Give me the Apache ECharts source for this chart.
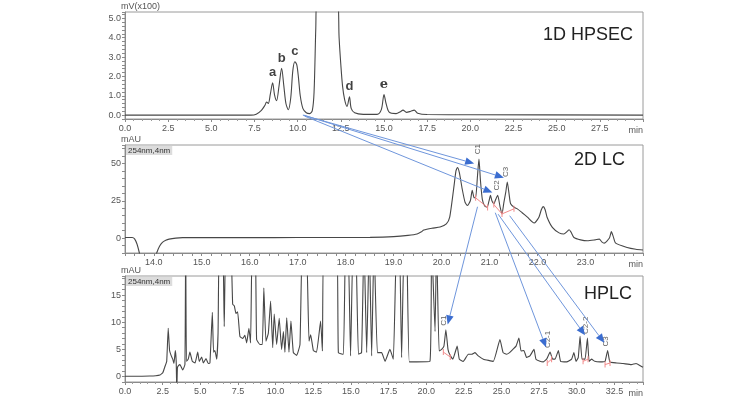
<!DOCTYPE html>
<html><head><meta charset="utf-8">
<script src="https://cdn.jsdelivr.net/npm/echarts@6/dist/echarts.min.js"></script>
<style>html,body{margin:0;padding:0;background:#fff}#c{width:756px;height:400px}</style>
</head><body><div id="c"></div>
<script>
// ---------- data (time in min, signal in panel units) ----------
const hpsecPoints = [[0,0],[7.3,0],[7.6,0.05],[7.9,0.25],[8.1,0.5],[8.2,0.68],[8.3,0.6],[8.42,1.1],[8.55,1.67],[8.66,1.05],[8.78,0.75],[8.92,1.5],[9.07,2.42],[9.2,1.5],[9.32,0.6],[9.46,0.28],[9.6,0.9],[9.72,2.3],[9.84,2.76],[9.95,2.6],[10.05,1.9],[10.15,1.0],[10.3,0.35],[10.5,0.12],[10.7,0.08],[10.85,0.25],[10.95,1.2],[11.05,4.5],[11.12,6],[12.3,6],[12.4,4.0],[12.5,2.6],[12.6,1.5],[12.72,0.8],[12.86,0.45],[13.0,0.95],[13.1,0.35],[13.3,0.12],[13.8,0.04],[14.6,0.04],[14.85,0.3],[15.0,1.07],[15.12,0.6],[15.3,0.15],[15.7,0.08],[15.95,0.18],[16.1,0.26],[16.3,0.14],[16.55,0.2],[16.75,0.26],[16.95,0.1],[17.5,0.03],[20,0.02],[30,0]];

const lcPoints = [[13.4,0.4],[13.55,0.4],[13.6,-0.5],[13.65,-4],[13.7,-10],[13.74,-16],[14.0,-16],[14.06,-10],[14.12,-5.5],[14.18,-2.9],[14.25,-1.5],[14.32,-0.7],[14.46,0],[14.6,0.3],[16,0.3],[17,0.35],[18,0.4],[18.51,0.5],[19.0,1.0],[19.3,1.8],[19.49,2.7],[19.58,4.2],[19.63,5.4],[19.8,6.6],[19.97,7.4],[20.1,9.5],[20.17,14],[20.26,35],[20.3,45],[20.33,47.3],[20.37,44],[20.43,33],[20.49,24],[20.54,21.8],[20.6,25],[20.64,32],[20.68,27],[20.71,27],[20.75,42],[20.78,52.9],[20.81,39],[20.85,26],[20.9,21.5],[20.95,20.7],[20.99,25],[21.02,28.6],[21.05,25],[21.09,23],[21.13,26],[21.17,28.6],[21.22,21],[21.26,16.2],[21.3,24],[21.34,31],[21.37,37.6],[21.41,29],[21.44,23],[21.52,20.5],[21.58,19.6],[21.68,17],[21.79,14],[21.93,10.1],[22.03,14],[22.08,19],[22.12,21.1],[22.16,19],[22.2,14],[22.31,7.2],[22.45,3.5],[22.55,2.7],[22.62,4.5],[22.66,5.6],[22.7,4],[22.76,0.4],[22.9,-1.2],[23.04,-1.8],[23.2,-1.2],[23.29,-0.7],[23.34,-2.5],[23.39,-3.4],[23.5,0],[23.54,4.3],[23.58,1],[23.63,-3.4],[23.87,-6.3],[24.05,-7.5],[24.2,-8]];

const hplcPoints = [[0,0.05],[1.65,0.1],[2.33,0.3],[2.51,0.7],[2.66,1.9],[2.77,2.8],[2.87,8.9],[2.96,4.8],[3.06,3.9],[3.17,3.2],[3.25,2.4],[3.34,4.8],[3.40,2.8],[3.44,-3],[3.48,1.6],[3.55,2.0],[3.65,2.2],[3.83,1.2],[3.98,2.2],[4.03,25],[4.08,2.8],[4.20,3.2],[4.31,4.5],[4.47,2.8],[4.65,2.5],[4.83,4.5],[4.93,2.8],[5.09,3.6],[5.20,2.5],[5.38,3.3],[5.53,2.4],[5.64,2.5],[5.80,11.8],[5.88,4.5],[5.97,4.8],[6.09,3.2],[6.18,8],[6.26,25],[6.49,25],[6.59,9.2],[6.70,25],[7.01,25],[7.15,13.3],[7.26,13.0],[7.37,11.6],[7.48,11.9],[7.63,7.4],[7.82,7.0],[7.96,7.6],[8.08,6.2],[8.23,8.9],[8.34,6.2],[8.45,25],[8.65,25],[8.74,6.8],[8.96,5.9],[9.12,5.9],[9.22,16.3],[9.36,6.5],[9.52,8.0],[9.67,13.9],[9.81,5.3],[9.91,11.5],[10.07,5.9],[10.24,10.7],[10.40,5.0],[10.52,8.3],[10.62,4.5],[10.74,10.8],[10.89,4.5],[11.02,10.2],[11.18,4.4],[11.40,3.9],[11.62,5.9],[11.78,25],[12.04,25],[12.22,6.5],[12.33,7.7],[12.51,4.8],[12.72,4.5],[12.99,10.2],[13.11,4.7],[13.22,25],[14.05,25],[14.17,4.4],[14.50,4.1],[14.65,25],[14.81,25],[14.98,3.8],[15.15,25],[15.32,25],[15.50,4.1],[15.71,4.4],[15.87,25],[16.05,4.4],[16.22,25],[16.38,3.8],[16.54,25],[16.76,4.4],[17.04,4.4],[17.27,2.8],[17.59,5.0],[17.82,3.2],[18.04,25],[18.22,25],[18.37,3.5],[18.54,25],[18.70,25],[18.88,2.7],[19.37,2.7],[20.25,2.8],[20.36,25],[20.59,8.3],[20.69,25],[20.86,4.7],[21.03,5.0],[21.18,5.6],[21.31,8.6],[21.45,5.0],[21.56,4.1],[21.77,3.2],[22.06,5.6],[22.2,3.2],[22.46,2.8],[22.80,4.1],[23.02,4.1],[23.24,4.4],[23.46,3.8],[23.80,3.2],[24.46,2.8],[24.90,6.8],[25.11,4.4],[25.33,4.1],[25.54,4.4],[25.76,5.0],[25.97,5.6],[26.16,7.1],[26.30,4.7],[26.49,4.8],[26.67,3.5],[26.89,3.8],[27.16,5.0],[27.29,3.2],[27.56,2.8],[27.78,2.7],[28.0,3.2],[28.23,4.5],[28.40,3.2],[28.56,3.2],[28.78,4.8],[28.93,2.8],[29.33,2.7],[29.66,3.2],[29.81,4.4],[29.95,2.8],[30.10,3.5],[30.22,7.4],[30.35,3.2],[30.55,3.2],[30.71,7.1],[30.82,2.8],[30.98,3.2],[31.20,2.8],[31.54,2.7],[31.88,2.8],[32.05,4.8],[32.20,2.7],[32.65,2.5],[33.08,2.4],[33.62,2.2],[33.94,2.4],[34.27,1.9],[34.4,1.7]];

// integration baselines (red marks)
const lcBaselines = [[[20.71,27],[20.96,20.5]], [[21.09,22.5],[21.26,16.2],[21.51,19.6]]];
const hplcBaselines = [[[21.14,4.5],[21.6,3.6]], [[28.04,2.5],[28.33,3.2]], [[30.42,2.8],[30.75,3.2]], [[31.88,2.2],[32.21,2.5]]];

// peak labels
const hpsecPeakNames = ['a','b','c','d','e'];
const hpsecPeakTimes = [8.55, 9.07, 9.84, 13.0, 15.0];
const hpsecPeakHeights = [1.67, 2.42, 2.76, 0.95, 1.07];
const lcPeakNames = ['C1','C2','C3'];
const lcPeakTimes = [20.78, 21.17, 21.37];
const lcPeakHeights = [52.9, 28.6, 37.6];
const hplcPeakNames = ['C1','C2-1','C2-2','C3'];
const hplcPeakTimes = [21.31, 28.23, 30.71, 32.05];
const hplcPeakHeights = [8.6, 4.5, 7.1, 4.8];

// arrows: [panel, time, signal] -> [panel, time, signal]
const arrowFrom = [[0,10.3,0.0],[0,10.35,0.0],[0,10.4,-0.05],[1,20.75,21],[1,21.12,17],[1,21.18,16],[1,21.42,15]];
const arrowTo   = [[1,20.68,50],[1,21.3,40.5],[1,21.06,30.5],[2,21.43,9.6],[2,27.96,5.4],[2,30.55,7.6],[2,31.83,6.2]];

// axis extents
const xRanges = [[0,30,2.5],[13.4,24.2,0.2],[0,34.4,2.5]];
const yRanges = [[-0.2,5.33,0.2],[-10,62.4,5],[-1,18.5,1]];
const yNames = ['mV(x100)','mAU','mAU'];
const panelTitles = ['1D HPSEC','2D LC','HPLC'];

// ---------- chart ----------
const FONT = 'Liberation Sans';
const chart = echarts.init(document.getElementById('c'));
const grids = [
  {left:125, top:12, width:518, height:107},
  {left:125, top:145, width:518, height:108},
  {left:125, top:276, width:518, height:106}
].map(g => Object.assign(g, {show:true, borderColor:'#9a9a9a', borderWidth:1, backgroundColor:'transparent'}));

const near = (v, step) => Math.abs(v/step - Math.round(v/step)) < 1e-6;
const xFormatters = [
  v => (v > 29.9 ? '' : v.toFixed(1)),
  v => (near(v,1) && v < 23.9 ? v.toFixed(1) : ''),
  v => (near(v,2.5) && v < 34 ? v.toFixed(1) : '')
];
const yFormatters = [
  v => (near(v,1) && v >= 0 && v <= 5 ? v.toFixed(1) : ''),
  v => (near(v,25) && v >= 0 ? String(Math.round(v)) : ''),
  v => (near(v,5) && v >= 0 ? String(Math.round(v)) : '')
];

const axisLineStyle = {onZero:false, lineStyle:{color:'#8a8a8a', width:1}};
const labelStyle = {color:'#555', fontSize:9, fontFamily:FONT, margin:4};

const xAxes = xRanges.map((r,i) => ({
  type:'value', gridIndex:i, min:r[0], max:r[1], interval:r[2],
  axisLine:axisLineStyle, splitLine:{show:false},
  axisTick:{show:true, length:3, lineStyle:{color:'#8a8a8a'}},
  minorTick:{show:i !== 1, splitNumber:5, length:2, lineStyle:{color:'#9a9a9a'}},
  axisLabel:Object.assign({}, labelStyle, {formatter:xFormatters[i], margin:5}),
  name:'min', nameLocation:'end', nameGap:0,
  nameTextStyle:{color:'#555', fontSize:9, fontFamily:FONT, align:'right', verticalAlign:'top', padding:[7,0,0,0]}
}));
const yAxes = yRanges.map((r,i) => ({
  type:'value', gridIndex:i, min:r[0], max:r[1], interval:r[2],
  axisLine:axisLineStyle, splitLine:{show:false},
  axisTick:{show:true, length:3, lineStyle:{color:'#8a8a8a'}},
  axisLabel:Object.assign({}, labelStyle, {formatter:yFormatters[i]}),
  name:yNames[i], nameLocation:'end', nameGap:1,
  nameTextStyle:{color:'#555', fontSize:9, fontFamily:FONT, align:'left', padding:[0,0,0,-4]}
}));

const traceStyle = {color:'#474747', width:1.1};
const series = [
  {type:'line', xAxisIndex:0, yAxisIndex:0, data:hpsecPoints, showSymbol:false, smooth:0.3, lineStyle:traceStyle, itemStyle:{color:'#474747'}, z:3},
  {type:'line', xAxisIndex:1, yAxisIndex:1, data:lcPoints, showSymbol:false, smooth:0.2, lineStyle:traceStyle, itemStyle:{color:'#474747'}, z:3},
  {type:'line', xAxisIndex:2, yAxisIndex:2, data:hplcPoints, showSymbol:false, smooth:0.12, lineStyle:traceStyle, itemStyle:{color:'#474747'}, z:3}
];
const baselineSeries = (segs, gi) => segs.map(seg => ({
  type:'line', xAxisIndex:gi, yAxisIndex:gi, data:seg, showSymbol:true, symbol:'rect', symbolSize:[1,6],
  lineStyle:{color:'#f28b8b', width:1}, itemStyle:{color:'#f28b8b'}, z:4
}));
series.push(...baselineSeries(lcBaselines,1), ...baselineSeries(hplcBaselines,2));

series.push({
  type:'scatter', xAxisIndex:0, yAxisIndex:0, symbolSize:1, itemStyle:{color:'rgba(0,0,0,0)'}, z:5,
  data: hpsecPeakNames.map((n,i) => ({name:n, value:[hpsecPeakTimes[i], hpsecPeakHeights[i]],
        label: n === 'e' ? {fontFamily:'DejaVu Serif'} : {}})),
  label:{show:true, formatter:'{b}', position:'top', distance:3, fontSize:13, fontWeight:'bold', color:'#111', fontFamily:FONT}
});
const rotLabel = {show:true, formatter:'{b}', position:'inside', rotate:90, align:'left', verticalAlign:'middle',
                  offset:[5,-1], fontSize:8, color:'#333', fontFamily:FONT};
series.push({
  type:'scatter', xAxisIndex:1, yAxisIndex:1, symbolSize:1, itemStyle:{color:'rgba(0,0,0,0)'}, z:5,
  data: lcPeakNames.map((n,i) => ({name:n, value:[lcPeakTimes[i], lcPeakHeights[i]]})), label:rotLabel
});
series.push({
  type:'scatter', xAxisIndex:2, yAxisIndex:2, symbolSize:1, itemStyle:{color:'rgba(0,0,0,0)'}, z:5,
  data: hplcPeakNames.map((n,i) => ({name:n, value:[hplcPeakTimes[i], hplcPeakHeights[i]]})), label:Object.assign({}, rotLabel, {offset:[4,-2]})
});

const titleTops = [26, 151, 285];
const titleLefts = [543, 574, 584];
chart.setOption({
  animation:false,
  backgroundColor:'#fff',
  grid:grids, xAxis:xAxes, yAxis:yAxes, series:series,
  title: panelTitles.map((t,i) => ({text:t, left:titleLefts[i], top:titleTops[i], padding:0,
    textStyle:{fontSize:18, fontWeight:'normal', color:'#222', fontFamily:FONT}}))
});

// arrows & wavelength tags drawn through the axes' own scales
const toPx = (p) => chart.convertToPixel({xAxisIndex:p[0], yAxisIndex:p[0]}, [p[1], p[2]]);
const graphic = [];
arrowFrom.forEach((f, i) => {
  const p0 = toPx(f), p1 = toPx(arrowTo[i]);
  const dx = p1[0]-p0[0], dy = p1[1]-p0[1], len = Math.hypot(dx, dy);
  const ux = dx/len, uy = dy/len, hl = 9, hw = 3.8;
  const bx = p1[0]-ux*hl, by = p1[1]-uy*hl;
  graphic.push({type:'line', silent:true, z:100, shape:{x1:p0[0], y1:p0[1], x2:bx, y2:by},
    style:{stroke:'#6f96dc', lineWidth:1}});
  graphic.push({type:'polygon', silent:true, z:101,
    shape:{points:[[p1[0],p1[1]],[bx-uy*hw, by+ux*hw],[bx+uy*hw, by-ux*hw]]},
    style:{fill:'#3b6dd0'}});
});
[1,2].forEach(gi => {
  const g = grids[gi];
  graphic.push({type:'text', silent:true, z:50, left:g.left+1, top:g.top+1,
    style:{text:'254nm,4nm', fontSize:8, fontFamily:FONT, fill:'#333', backgroundColor:'#dcdcdc', padding:[1,2,0,2]}});
});
chart.setOption({graphic:graphic});
</script>
</body></html>
